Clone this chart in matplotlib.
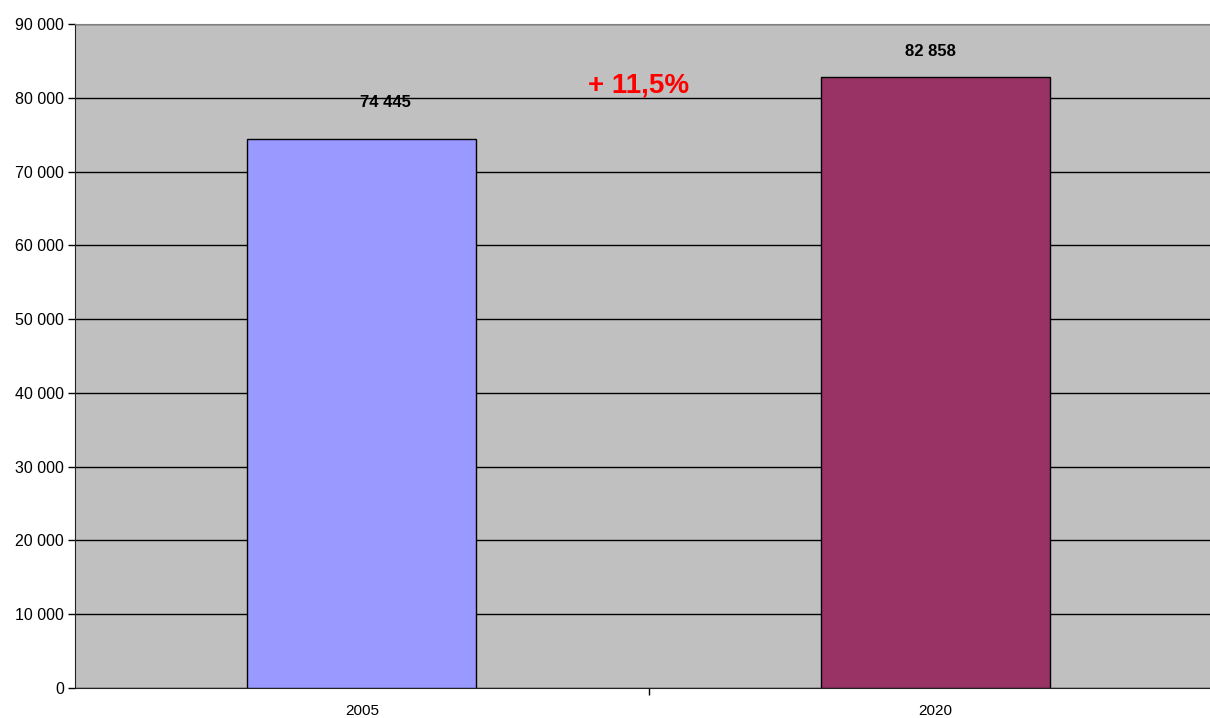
import matplotlib.pyplot as plt
from matplotlib.ticker import FuncFormatter

plt.rcParams['font.family'] = ['Liberation Sans', 'DejaVu Sans']

# data
years = ['2005', '2020']
values = [74445, 82858]
bar_colors = ['#9999FF', '#993366']
growth_label = '+ 11,5%'

fig = plt.figure(figsize=(12.1, 7.18), dpi=100)
ax = fig.add_axes([75 / 1210, 30 / 718, 1147 / 1210, 664 / 718])
ax.set_facecolor('#C0C0C0')

x = range(len(years))
ax.bar(x, values, width=0.4, color=bar_colors, edgecolor='black', linewidth=1, zorder=3)

ax.set_xlim(-0.5, 1.5)
ax.set_ylim(0, 90000)
ax.set_yticks(range(0, 90001, 10000))
ax.yaxis.set_major_formatter(FuncFormatter(lambda v, p: f'{int(v):,}'.replace(',', ' ')))
ax.grid(axis='y', color='black', linewidth=1, zorder=1)
ax.tick_params(axis='y', labelsize=11.5, length=5, width=1, pad=3)

# category ticks between groups, labels at centers
ax.set_xticks([0.5])
ax.set_xticklabels([''])
ax.tick_params(axis='x', length=5, width=1)
for i, yr in enumerate(years):
    ax.text(i, -2150, yr, ha='center', va='top', fontsize=11)

# value labels
ax.text(0.041, 79300, '74 445', ha='center', va='center', fontsize=12, fontweight='bold')
ax.text(0.992, 86340, '82 858', ha='center', va='center', fontsize=12, fontweight='bold')
ax.text(0.483, 81730, growth_label, ha='center', va='center', fontsize=20,
        fontweight='bold', color='red')

ax.spines['top'].set_color('#808080')
ax.spines['right'].set_visible(False)
ax.spines['left'].set_color('#222222')
ax.spines['bottom'].set_color('#222222')

fig.savefig('out.png', dpi=100)
